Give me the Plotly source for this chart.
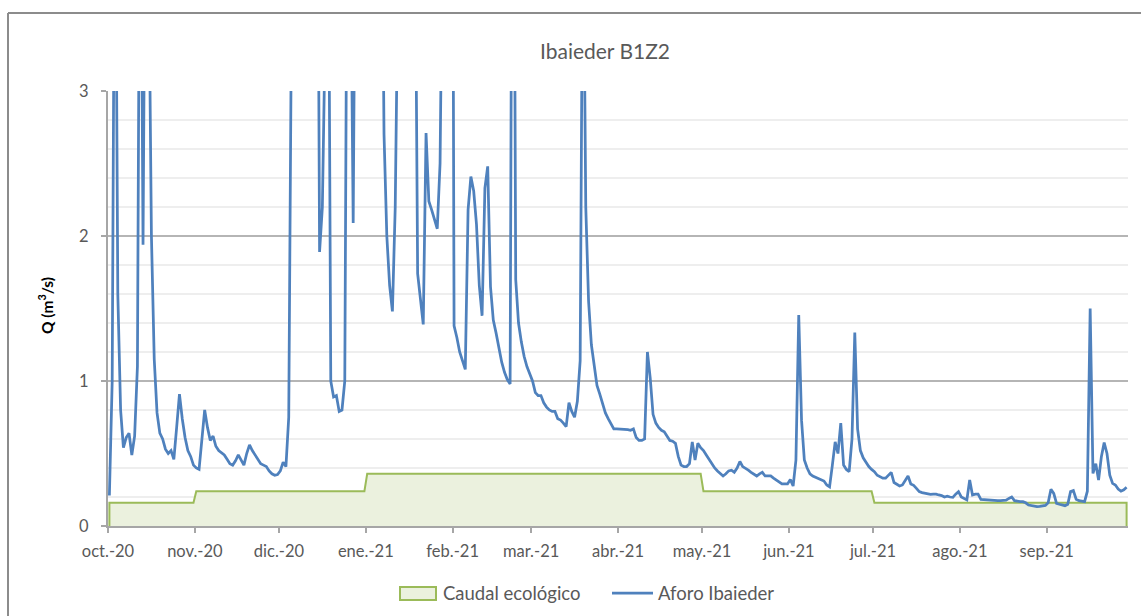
import pandas as pd
import plotly.graph_objects as go

# ---------------- data ----------------
month_labels = ["oct.-20", "nov.-20", "dic.-20", "ene.-21", "feb.-21", "mar.-21",
                "abr.-21", "may.-21", "jun.-21", "jul.-21", "ago.-21", "sep.-21"]

# Caudal ecológico (m3/s), one value per month
eco_month = [0.16, 0.24, 0.24, 0.36, 0.36, 0.36, 0.36, 0.24, 0.24, 0.16, 0.16, 0.16]

# Aforo Ibaieder, daily flow (m3/s)
oct_20 = [0.21, 1.0, 5.0, 1.6, 0.8, 0.54, 0.61, 0.64, 0.49, 0.62, 1.1, 5.2, 1.94, 5.0, 4.0,
          2.0, 1.15, 0.78, 0.64, 0.6, 0.53, 0.5, 0.52, 0.46, 0.68, 0.91, 0.74, 0.61, 0.52,
          0.48, 0.42]
nov_20 = [0.40, 0.39, 0.6, 0.80, 0.68, 0.59, 0.62, 0.55, 0.52, 0.505, 0.49, 0.46, 0.43,
          0.42, 0.45, 0.49, 0.45, 0.42, 0.5, 0.56, 0.52, 0.49, 0.46, 0.43, 0.42, 0.41, 0.38,
          0.36, 0.35, 0.355]
dic_20 = [0.38, 0.44, 0.41, 0.75, 3.6, 6.0, 7.0, 6.0, 5.5, 5.0, 6.0, 7.0, 6.5, 6.0, 1.89,
          2.2, 3.4, 5.0, 1.0, 0.89, 0.9, 0.79, 0.8, 1.0, 5.0, 4.2, 2.09, 5.0, 6.0, 7.0, 6.5]
ene_21 = [6.0, 7.0, 8.0, 7.0, 6.0, 5.0, 2.7, 2.0, 1.66, 1.48, 2.2, 3.5, 6.0, 7.0, 6.0, 5.5,
          5.0, 4.5, 1.74, 1.55, 1.39, 2.71, 2.24, 2.18, 2.12, 2.05, 2.5, 4.5, 6.0, 8.0, 8.0]
feb_21 = [1.38, 1.3, 1.2, 1.14, 1.08, 2.18, 2.41, 2.31, 2.08, 1.66, 1.45, 2.33, 2.48, 1.65,
          1.42, 1.33, 1.22, 1.13, 1.06, 1.01, 0.98, 6.5, 1.7, 1.4, 1.27, 1.17, 1.1, 1.05]
mar_21 = [1.0, 0.92, 0.9, 0.9, 0.85, 0.82, 0.8, 0.79, 0.79, 0.74, 0.73, 0.71, 0.685, 0.85,
          0.79, 0.75, 0.86, 1.14, 4.5, 2.2, 1.55, 1.25, 1.1, 0.97, 0.91, 0.85, 0.78, 0.74,
          0.7, 0.67, 0.67]
abr_21 = [0.67, 0.67, 0.67, 0.665, 0.66, 0.67, 0.61, 0.59, 0.59, 0.6, 1.2, 1.02, 0.77, 0.71,
          0.68, 0.66, 0.65, 0.62, 0.59, 0.585, 0.57, 0.48, 0.42, 0.41, 0.41, 0.43, 0.58,
          0.455, 0.57, 0.54]
may_21 = [0.52, 0.49, 0.46, 0.43, 0.40, 0.38, 0.36, 0.345, 0.36, 0.38, 0.385, 0.37, 0.40,
          0.445, 0.41, 0.40, 0.385, 0.37, 0.36, 0.345, 0.36, 0.37, 0.345, 0.345, 0.345, 0.33,
          0.315, 0.305, 0.29, 0.29, 0.29]
jun_21 = [0.32, 0.276, 0.455, 1.455, 0.73, 0.455, 0.40, 0.36, 0.345, 0.335, 0.33, 0.32, 0.31,
          0.283, 0.27, 0.42, 0.58, 0.50, 0.71, 0.42, 0.39, 0.375, 0.6, 1.335, 0.67, 0.52,
          0.47, 0.44, 0.41, 0.39]
jul_21 = [0.375, 0.35, 0.34, 0.33, 0.33, 0.35, 0.37, 0.30, 0.285, 0.276, 0.283, 0.31, 0.345,
          0.29, 0.28, 0.26, 0.237, 0.23, 0.225, 0.22, 0.218, 0.22, 0.22, 0.214, 0.21, 0.20,
          0.205, 0.2, 0.198, 0.22, 0.237]
ago_21 = [0.20, 0.19, 0.18, 0.317, 0.214, 0.22, 0.22, 0.184, 0.182, 0.18, 0.178, 0.175, 0.175,
          0.175, 0.175, 0.175, 0.178, 0.19, 0.20, 0.175, 0.17, 0.168, 0.168, 0.16, 0.145,
          0.14, 0.133, 0.133, 0.135, 0.138, 0.142]
sep_21 = [0.16, 0.253, 0.225, 0.156, 0.15, 0.145, 0.14, 0.15, 0.237, 0.244, 0.185, 0.175,
          0.17, 0.168, 0.24, 1.50, 0.363, 0.43, 0.317, 0.478, 0.575, 0.50, 0.35, 0.294, 0.283,
          0.255, 0.24, 0.25, 0.267]

aforo = (oct_20 + nov_20 + dic_20 + ene_21 + feb_21 + mar_21 + abr_21 + may_21 + jun_21
         + jul_21 + ago_21 + sep_21)

# ---------------- derived series ----------------
dates = pd.date_range("2020-10-01", periods=len(aforo), freq="D")
month_starts = pd.date_range("2020-10-01", periods=12, freq="MS")
eco_by_month = dict(zip(month_starts.month, eco_month))
eco = [eco_by_month[d.month] for d in dates]

# points sit in the middle of each day (category between tick marks)
xpos = list(dates + pd.Timedelta(hours=12))
poly_x = [xpos[0]] + xpos + [xpos[-1]]
poly_y = [0] + eco + [0]

FONT = "Lato"
GREY_TXT = "#595959"
AXIS = "#a6a6a6"
GREEN_LINE = "#9BBB59"
GREEN_FILL = "#EBF1DE"
BLUE = "#4F81BD"

# plot-area geometry in pixels (for placing frame / legend in paper coords)
L, R, T, B = 108, 13, 91, 90
W, H = 1141, 616
PW, PH = W - L - R, H - T - B


def px(xp):
    return (xp - L) / PW


def py(yp):
    return (H - B - yp) / PH


fig = go.Figure()
fig.add_trace(go.Scatter(
    x=poly_x, y=poly_y, mode="lines", fill="toself",
    fillcolor=GREEN_FILL, line=dict(color=GREEN_LINE, width=2),
    name="Caudal ecológico", hoverinfo="skip", showlegend=False))
fig.add_trace(go.Scatter(
    x=xpos, y=aforo, mode="lines",
    line=dict(color=BLUE, width=2.75),
    name="Aforo Ibaieder", showlegend=False))

fig.update_layout(
    width=W, height=H,
    margin=dict(l=L, r=R, t=T, b=B, pad=0),
    paper_bgcolor="white", plot_bgcolor="white",
    title=dict(text="Ibaieder B1Z2", x=605 / W, xref="container", xanchor="center",
               y=1 - 52 / H, yref="container", yanchor="middle",
               font=dict(family=FONT, size=21, color=GREY_TXT)),
    showlegend=False,
    xaxis=dict(
        type="date",
        range=[dates[0], dates[-1] + pd.Timedelta(days=1)],
        tickvals=list(month_starts), ticktext=month_labels,
        ticks="outside", ticklen=5, tickwidth=1.5, tickcolor=AXIS,
        showline=True, linecolor=AXIS, linewidth=2,
        showgrid=False, zeroline=False,
        tickfont=dict(family=FONT, size=16.5, color=GREY_TXT),
        ticklabelstandoff=4,
    ),
    yaxis=dict(
        range=[0, 3], tickvals=[0, 1, 2, 3], ticktext=["0", "1", "2", "3"],
        ticks="outside", ticklen=5, tickwidth=1.5, tickcolor=AXIS,
        showline=True, linecolor=AXIS, linewidth=2,
        showgrid=True, gridcolor="#b5b5b5", gridwidth=1.5, zeroline=False,
        minor=dict(dtick=0.2, showgrid=True, gridcolor="#eeeeee", gridwidth=1.5, ticks=""),
        tickfont=dict(family=FONT, size=16.5, color=GREY_TXT),
        ticklabelstandoff=9,
    ),
    annotations=[
        dict(text="<b>Q (m<sup>3</sup>/s)</b>", textangle=-90,
             x=px(45), xref="paper", xanchor="center",
             y=py(306), yref="paper", yanchor="middle",
             showarrow=False, font=dict(family=FONT, size=15.5, color="#000000")),
        dict(text="Caudal ecológico", x=px(441), xref="paper", xanchor="left",
             y=py(593), yref="paper", yanchor="middle", showarrow=False,
             font=dict(family=FONT, size=18.5, color=GREY_TXT)),
        dict(text="Aforo Ibaieder", x=px(656), xref="paper", xanchor="left",
             y=py(593), yref="paper", yanchor="middle", showarrow=False,
             font=dict(family=FONT, size=18.5, color=GREY_TXT)),
    ],
    shapes=[
        # chart frame
        dict(type="line", xref="paper", yref="paper", x0=px(8), x1=px(W + 20),
             y0=py(13), y1=py(13), line=dict(color="#8c8c8c", width=2)),
        dict(type="line", xref="paper", yref="paper", x0=px(8), x1=px(8),
             y0=py(13), y1=py(H + 20), line=dict(color="#8c8c8c", width=2)),
        # legend keys
        dict(type="rect", xref="paper", yref="paper", x0=px(400), x1=px(436),
             y0=py(600), y1=py(587), fillcolor=GREEN_FILL,
             line=dict(color=GREEN_LINE, width=2)),
        dict(type="line", xref="paper", yref="paper", x0=px(612), x1=px(653),
             y0=py(593), y1=py(593), line=dict(color=BLUE, width=2.75)),
    ],
)

fig.write_html("out.html",
               config={"displayModeBar": False},
               post_script="document.body.style.margin='0';document.body.style.overflow='hidden';")
